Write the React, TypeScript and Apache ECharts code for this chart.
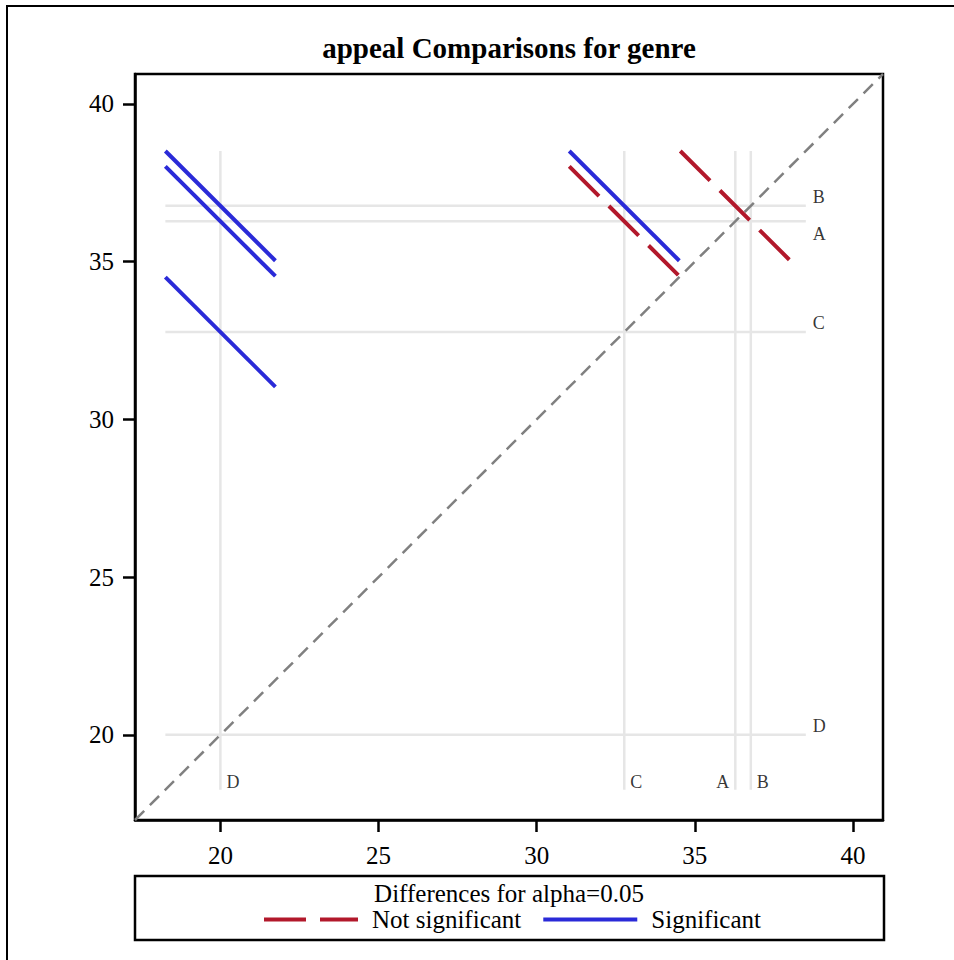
import React, { useEffect, useRef } from 'react';
import * as echarts from 'echarts';

// ---- data ----
const groups = ['A', 'B', 'C', 'D'];
const groupMeans = [36.28, 36.77, 32.77, 20.0];

const pairXGroup = ['D', 'D', 'D', 'C', 'C', 'A'];
const pairYGroup = ['B', 'A', 'C', 'B', 'A', 'B'];
const pairHalfWidth = [1.74, 1.74, 1.74, 1.74, 1.74, 1.74];
const pairSignificant = [true, true, true, true, false, false];

const xTickValues = [20, 25, 30, 35, 40];
const yTickValues = [20, 25, 30, 35, 40];
const axisMin = 17.3;
const axisMax = 40.95;

const titleText = 'appeal Comparisons for genre';
const legendTitle = 'Differences for alpha=0.05';
const legendNames = ['Not significant', 'Significant'];

// ---- styles ----
const FONT = '"Liberation Serif", "Times New Roman", serif';
const RED = '#B2182B';
const BLUE = '#2A2AD8';
const REF = '#E6E6E6';
const GRID = { left: 135, top: 74, width: 748, height: 746 };
const bottomLabelSide: Record<string, 'left' | 'right'> = { A: 'left', B: 'right', C: 'right', D: 'right' };
const rightLabelSide: Record<string, 'above' | 'below'> = { A: 'below', B: 'above', C: 'above', D: 'above' };

function buildOption() {
  const meanOf = (g: string) => groupMeans[groups.indexOf(g)];
  const lows: number[] = [];
  const highs: number[] = [];
  const pairSeries: any[] = pairXGroup.map((gx, i) => {
    const mx = meanOf(gx);
    const my = meanOf(pairYGroup[i]);
    const hw = pairHalfWidth[i];
    lows.push(mx - hw, my - hw);
    highs.push(mx + hw, my + hw);
    const sig = pairSignificant[i];
    const color = sig ? BLUE : RED;
    return {
      type: 'line',
      name: sig ? legendNames[1] : legendNames[0],
      data: [
        [mx - hw, my + hw],
        [mx + hw, my - hw],
      ],
      symbol: 'none',
      color,
      lineStyle: { color, width: 4, type: sig ? 'solid' : [42, 14] },
      z: 5,
    };
  });
  const refLo = Math.min(...lows);
  const refHi = Math.max(...highs);

  const refSeries: any[] = [];
  groups.forEach((g, i) => {
    const m = groupMeans[i];
    refSeries.push({
      type: 'line',
      data: [
        [m, refLo],
        [m, refHi],
      ],
      symbol: 'none',
      silent: true,
      lineStyle: { color: REF, width: 2.5 },
      z: 1,
    });
    refSeries.push({
      type: 'line',
      data: [
        [refLo, m],
        [refHi, m],
      ],
      symbol: 'none',
      silent: true,
      lineStyle: { color: REF, width: 2.5 },
      z: 1,
    });
  });

  const diagSeries = {
    type: 'line',
    data: [
      [axisMin, axisMin],
      [axisMax, axisMax],
    ],
    symbol: 'none',
    silent: true,
    lineStyle: { color: '#808080', width: 2.5, type: [13, 8] },
    z: 2,
  };

  const labelData: any[] = [];
  groups.forEach((g, i) => {
    const m = groupMeans[i];
    const side = bottomLabelSide[g];
    labelData.push({
      value: [m, refLo],
      name: g,
      label: {
        position: side === 'right' ? [6, -8] : [-6, -8],
        align: side === 'right' ? 'left' : 'right',
        verticalAlign: 'middle',
      },
    });
    const vs = rightLabelSide[g];
    labelData.push({
      value: [refHi, m],
      name: g,
      label: {
        position: vs === 'above' ? [7, -9] : [7, 13],
        align: 'left',
        verticalAlign: 'middle',
      },
    });
  });

  const labelSeries = {
    type: 'scatter',
    data: labelData,
    symbolSize: 0,
    silent: true,
    itemStyle: { color: 'rgba(0,0,0,0)' },
    label: {
      show: true,
      formatter: (p: any) => p.name,
      fontFamily: FONT,
      fontSize: 18,
      color: '#000',
    },
    z: 3,
  };

  const axisCommon = {
    type: 'value',
    min: axisMin,
    max: axisMax,
    splitLine: { show: false },
    axisLine: { show: true, onZero: false, lineStyle: { color: '#000', width: 2.5 } },
    axisTick: { show: true, inside: false, length: 12, lineStyle: { color: '#000', width: 2.5 } },
  };

  return {
    animation: false,
    backgroundColor: '#fff',
    grid: { ...GRID, show: true, borderColor: '#000', borderWidth: 2.5, backgroundColor: 'transparent', containLabel: false, outerBoundsMode: 'none' },
    xAxis: {
      ...axisCommon,
      axisTick: { ...axisCommon.axisTick, customValues: xTickValues },
      axisLabel: { customValues: xTickValues, fontFamily: FONT, fontSize: 25, color: '#000', margin: 23 },
    },
    yAxis: {
      ...axisCommon,
      axisTick: { ...axisCommon.axisTick, customValues: yTickValues },
      axisLabel: { customValues: yTickValues, fontFamily: FONT, fontSize: 25, color: '#000', margin: 21 },
    },
    legend: {
      data: legendNames,
      left: 262,
      top: 907,
      padding: 0,
      itemWidth: 94,
      itemHeight: 14,
      itemGap: 20,
      itemStyle: { opacity: 0 },
      lineStyle: { width: 4, opacity: 1 },
      textStyle: { fontFamily: FONT, fontSize: 25, color: '#000', padding: [0, 0, 0, 9] },
      selectedMode: false,
    },
    graphic: [
      {
        type: 'rect',
        shape: { x: 7, y: 6, width: 1200, height: 1200 },
        style: { fill: 'none', stroke: '#000', lineWidth: 2 },
        silent: true,
      },
      {
        type: 'text',
        x: GRID.left + GRID.width / 2,
        y: 48,
        style: {
          text: titleText,
          fontFamily: FONT,
          fontSize: 29,
          fontWeight: 'bold',
          fill: '#000',
          textAlign: 'center',
          textVerticalAlign: 'middle',
        },
      },
      {
        type: 'rect',
        shape: { x: 135, y: 876, width: 749, height: 64 },
        style: { fill: 'none', stroke: '#000', lineWidth: 2.5 },
        silent: true,
      },
      {
        type: 'text',
        x: GRID.left + GRID.width / 2,
        y: 893,
        style: {
          text: legendTitle,
          fontFamily: FONT,
          fontSize: 25,
          fill: '#000',
          textAlign: 'center',
          textVerticalAlign: 'middle',
        },
      },
    ],
    series: [...refSeries, diagSeries, labelSeries, ...pairSeries],
  };
}

export default function App() {
  const ref = useRef<HTMLDivElement>(null);
  useEffect(() => {
    if (!ref.current) return;
    const chart = echarts.init(ref.current, undefined, { renderer: 'svg' });
    chart.setOption(buildOption() as any);
    return () => chart.dispose();
  }, []);
  return (
    <div
      ref={ref}
      style={{ position: 'fixed', left: 0, top: 0, width: 954, height: 960, background: '#fff' }}
    />
  );
}
